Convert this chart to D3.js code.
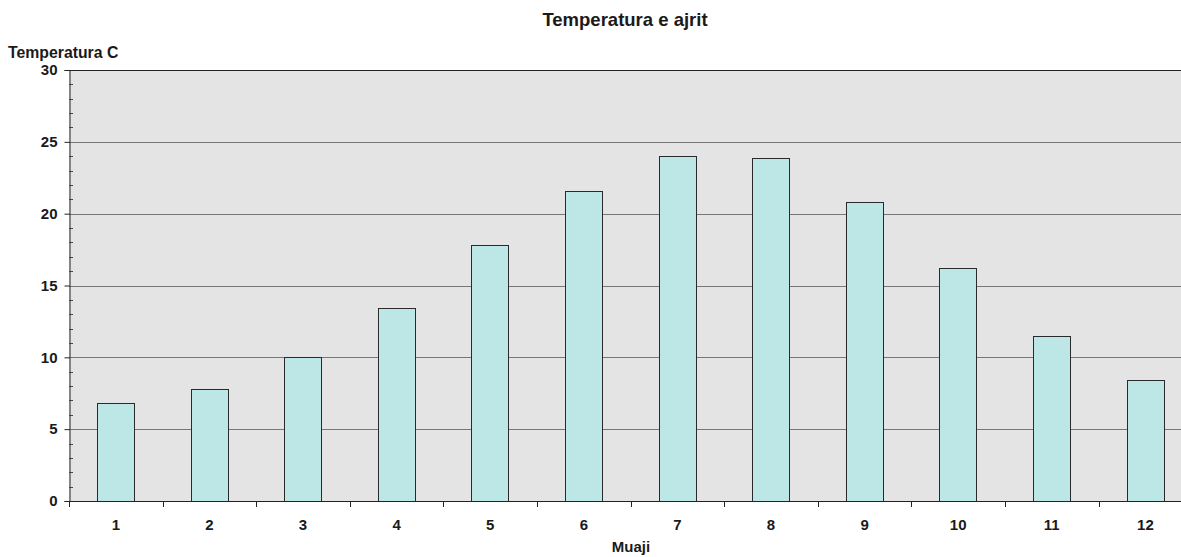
<!DOCTYPE html>
<html><head><meta charset="utf-8">
<script src="https://cdn.jsdelivr.net/npm/d3@7"></script>
<style>body{margin:0;background:#fff}text{font-family:"Liberation Sans",Arial,sans-serif;font-weight:bold;fill:#1a1a1a}</style>
</head><body>
<svg id="c" width="1181" height="557"></svg>
<script>
const months = ["1","2","3","4","5","6","7","8","9","10","11","12"];
const temps = [6.8, 7.8, 10.0, 13.4, 17.8, 21.6, 24.0, 23.9, 20.8, 16.2, 11.5, 8.4];
const yTicks = [0, 5, 10, 15, 20, 25, 30];
const title = "Temperatura e ajrit";
const yTitle = "Temperatura C";
const xTitle = "Muaji";

(function () {
const svg = d3.select("#c");
const pL = 69, pT = 70, pB = 501, bandW = 93.6;
const pR = pL + bandW * months.length;
const x = d3.scaleBand().domain(months).range([pL, pR]).paddingInner(0.6).paddingOuter(0.3);
const xb = d3.scaleBand().domain(months).range([pL, pR]);
const y = d3.scaleLinear().domain([0, 30]).range([pB, pT]);

svg.append("rect").attr("x", pL).attr("y", pT).attr("width", pR - pL).attr("height", pB - pT).attr("fill", "#e4e4e4");

// grid
svg.selectAll(".g").data(yTicks.filter(d => d > 0)).join("line")
  .attr("x1", pL).attr("x2", pR).attr("y1", d => Math.round(y(d)) + 0.5).attr("y2", d => Math.round(y(d)) + 0.5)
  .attr("stroke", d => d === 30 ? "#222" : "#777").attr("stroke-width", 1);

// bars
svg.selectAll(".b").data(temps).join("rect")
  .attr("x", (d, i) => Math.round(x(months[i])) + 0.5).attr("width", Math.round(x.bandwidth()))
  .attr("y", d => Math.round(y(d)) + 0.5).attr("height", d => Math.round(y(0)) - Math.round(y(d)))
  .attr("fill", "#bde6e6").attr("stroke", "#2a2a2a").attr("stroke-width", 1);

// y axis
const yAxis = d3.axisLeft(y).tickValues(yTicks).tickSize(5).tickPadding(7);
const ga = svg.append("g").attr("transform", `translate(${pL + 0.5},0)`).call(yAxis);
ga.select(".domain").attr("stroke", "#222");
ga.selectAll(".tick line").attr("stroke", "#222");
ga.selectAll("text").attr("font-size", 15).attr("font-family", "Liberation Sans, Arial").attr("font-weight", "bold").attr("fill", "#1a1a1a");
// minor ticks inward
const minor = d3.range(0, 31).filter(v => v % 5 !== 0);
svg.append("g").selectAll("line").data(minor).join("line")
  .attr("x1", pL).attr("x2", pL + 4).attr("y1", d => Math.round(y(d)) + 0.5).attr("y2", d => Math.round(y(d)) + 0.5)
  .attr("stroke", "#444");

// x axis
svg.append("line").attr("x1", pL).attr("x2", pR).attr("y1", pB + 0.5).attr("y2", pB + 0.5).attr("stroke", "#222");
const bounds = months.map(m => xb(m));
svg.append("g").selectAll("line").data(bounds).join("line")
  .attr("x1", d => Math.round(d) + 0.5).attr("x2", d => Math.round(d) + 0.5).attr("y1", pB).attr("y2", pB + 6).attr("stroke", "#222");
svg.append("g").selectAll("text").data(months).join("text")
  .attr("x", d => xb(d) + xb.bandwidth() / 2).attr("y", 530).attr("text-anchor", "middle").attr("font-size", 15).text(d => d);

svg.append("text").attr("x", 625).attr("y", 26).attr("text-anchor", "middle").attr("font-size", 18.5).text(title);
svg.append("text").attr("x", 8).attr("y", 58).attr("font-size", 15.8).text(yTitle);
svg.append("text").attr("x", 631).attr("y", 552).attr("text-anchor", "middle").attr("font-size", 15).text(xTitle);
})();
</script>
</body></html>
